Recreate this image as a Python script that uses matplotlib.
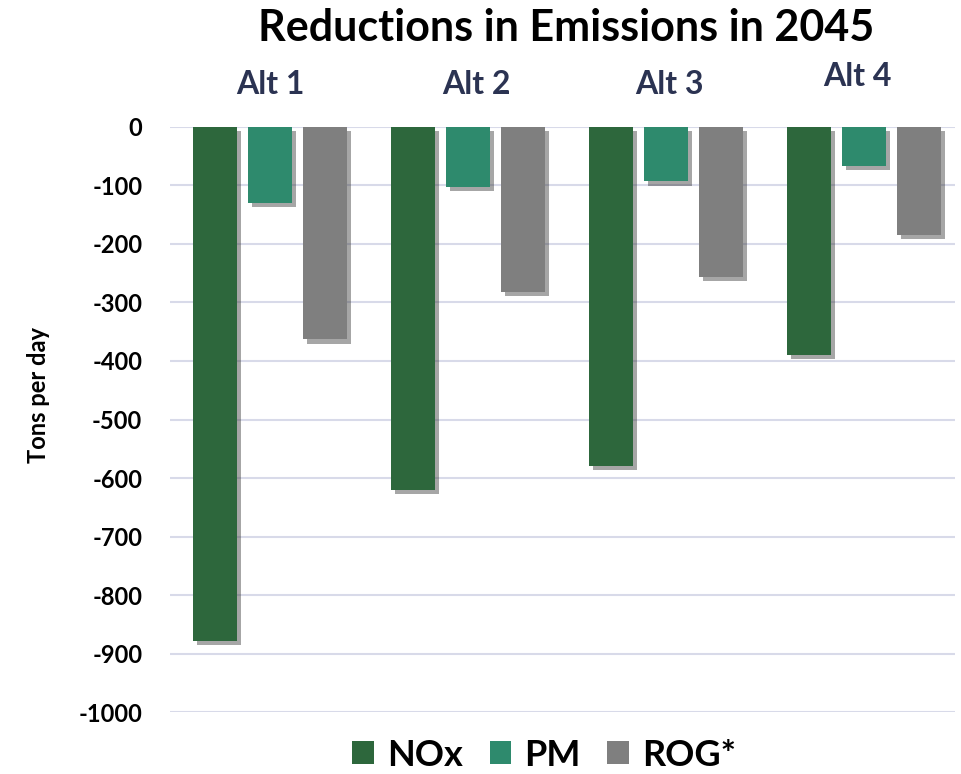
import numpy as np
import matplotlib.pyplot as plt
import matplotlib.patheffects as pe
from matplotlib.patches import Patch

plt.rcParams['font.family'] = ['Lato', 'DejaVu Sans']
plt.rcParams['font.weight'] = 'bold'

alts = ["Alt 1", "Alt 2", "Alt 3", "Alt 4"]
nox = [-878, -620, -579, -389]
pm = [-130, -103, -93, -67]
rog = [-363, -282, -257, -184]
series = ["NOx", "PM", "ROG*"]
colors = ["#2d673c", "#2e8a6d", "#7f7f7f"]
yticks = list(range(0, -1001, -100))

fig = plt.figure(figsize=(9.61, 7.74), dpi=100)
ax = fig.add_axes([0.177, 0.080, 0.817, 0.756])

x = np.arange(len(alts))
w = 0.222
step = 0.278
shadow = [pe.SimplePatchShadow(offset=(3, -3), shadow_rgbFace="#3a3a3a", alpha=0.45), pe.Normal()]
for i, (vals, c) in enumerate(zip([nox, pm, rog], colors)):
    ax.bar(x + (i - 1) * step, vals, width=w, color=c, zorder=3, path_effects=shadow)

ax.set_xlim(-0.505, 3.46)
ax.set_ylim(-1000, 0)
ax.set_yticks(yticks)
ax.set_yticklabels([str(t) for t in yticks], fontsize=17, fontweight="bold")
ax.tick_params(axis="y", length=0, pad=20)
ax.set_xticks([])
ax.grid(axis="y", color="#d8dae9", linewidth=1.5, zorder=0)
for s in ax.spines.values():
    s.set_visible(False)

fig.text(38 / 961, 1 - 395 / 774, "Tons per day", rotation=90,
         ha="center", va="center", fontsize=17, fontweight="bold")

# group names above the bars (hand-placed, slightly uneven)
name_dx = [0, 8, 3, -7]
name_y = [85, 85, 85, 77]
for xi, name, dx, py in zip(x, alts, name_dx, name_y):
    fig.text((170 + (xi + 0.505) * 198 + dx) / 961, 1 - py / 774, name,
             ha="center", va="center", fontsize=23, fontweight="bold", color="#2b3352")

fig.text(0.589, 1 - 28 / 774, "Reductions in Emissions in 2045",
         ha="center", va="center", fontsize=31, fontweight="bold", color="black")

handles = [Patch(facecolor=c) for c in colors]
fig.legend(handles, series, loc="center", bbox_to_anchor=(544 / 961, 1 - 755 / 774),
           ncol=3, frameon=False, handlelength=0.6, handleheight=0.6,
           handletextpad=0.35, columnspacing=0.75, prop={"weight": "bold", "size": 26})

fig.savefig("out.png", dpi=100)
